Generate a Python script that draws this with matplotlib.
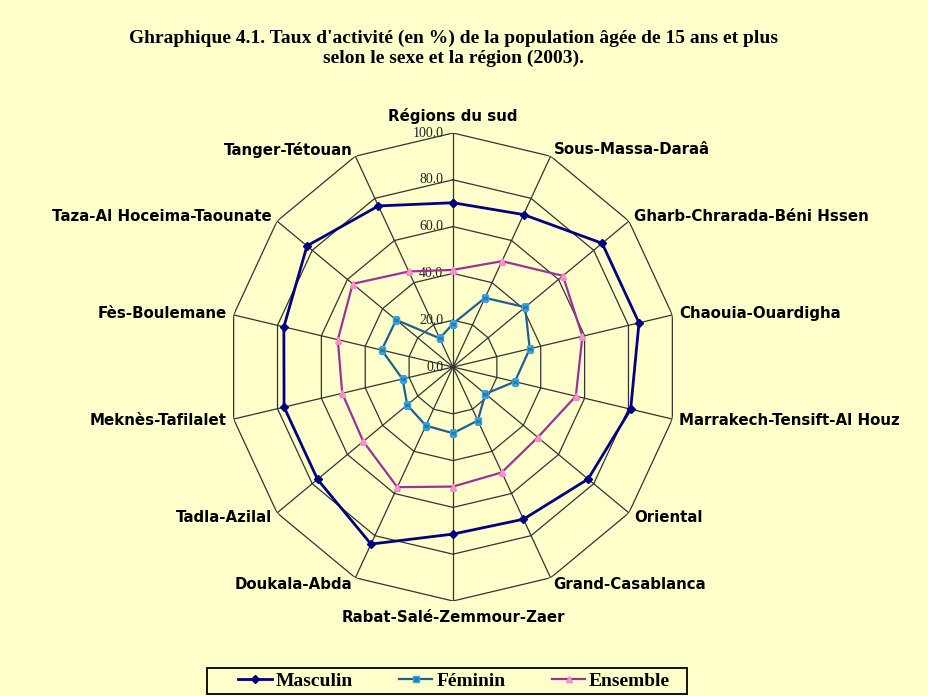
import numpy as np
import matplotlib.pyplot as plt
from matplotlib.patches import Rectangle

# Régions (dans le sens horaire depuis le haut)
regions = ['Régions du sud', 'Sous-Massa-Daraâ', 'Gharb-Chrarada-Béni Hssen',
           'Chaouia-Ouardigha', 'Marrakech-Tensift-Al Houz', 'Oriental',
           'Grand-Casablanca', 'Rabat-Salé-Zemmour-Zaer', 'Doukala-Abda',
           'Tadla-Azilal', 'Meknès-Tafilalet', 'Fès-Boulemane',
           'Taza-Al Hoceima-Taounate', 'Tanger-Tétouan']
masculin = [70.2, 72.3, 84.8, 84.8, 81.0, 76.8, 72.2, 71.4, 84.0, 77.0, 77.0, 77.1, 83.0, 76.4]
feminin = [18.5, 32.8, 41.0, 35.0, 28.2, 18.4, 25.4, 28.3, 27.8, 26.0, 23.0, 32.5, 32.3, 13.6]
ensemble = [41.5, 50.2, 62.5, 59.0, 56.0, 48.2, 50.0, 51.1, 57.0, 51.0, 50.5, 52.5, 57.0, 45.3]
ticks = [0, 20, 40, 60, 80, 100]

bg = '#FFFFCC'
fig = plt.figure(figsize=(9.29, 6.96), dpi=100, facecolor=bg)
ax = fig.add_axes([0.2454, 0.1365, 0.4844, 0.6724], projection='polar')
ax.set_aspect('auto')
ax.set_facecolor(bg)
ax.set_theta_zero_location('N')
ax.set_theta_direction(-1)
ax.set_ylim(0, 100)
ax.grid(False)
ax.spines['polar'].set_visible(False)
ax.set_xticks([])
ax.set_yticks([])

n = len(regions)
theta = np.arange(n) * 2 * np.pi / n
theta_c = np.append(theta, theta[0])

# grille polygonale
for t in ticks[1:]:
    ax.plot(theta_c, [t] * (n + 1), color='#333333', lw=0.9, zorder=1)
for th in theta:
    ax.plot([th, th], [0, 100], color='#333333', lw=0.9, zorder=1)

# étiquettes de l'axe radial
for t in ticks:
    ax.annotate('%.1f' % t, xy=(0, t), xytext=(-7, 0), textcoords='offset points',
                ha='right', va='center', fontsize=10, family='Liberation Serif',
                color='#222222', zorder=2)

def close(v):
    return list(v) + [v[0]]

ax.plot(theta_c, close(masculin), color='#000080', lw=2, marker='D', ms=4,
        mfc='#000080', mec='#000080', label='Masculin', zorder=4)
ax.plot(theta_c, close(feminin), color='#1F5F8F', lw=1.6, marker='s', ms=5,
        mfc='#1F7FAF', mec='#3FA0E0', label='Féminin', zorder=4)
ax.plot(theta_c, close(ensemble), color='#993399', lw=1.6, marker='^', ms=5,
        mfc='#FF99CC', mec='#FF88CC', label='Ensemble', zorder=3)

# noms des régions
for th, lab in zip(theta, regions):
    s = np.sin(th)
    c = np.cos(th)
    if abs(s) < 0.05:
        ha = 'center'
    elif s > 0:
        ha = 'left'
    else:
        ha = 'right'
    if c > 0.95:
        va = 'bottom'
        r = 104
    elif c < -0.95:
        va = 'top'
        r = 104
    else:
        va = 'center'
        r = 103
    ax.text(th, r, lab, ha=ha, va=va, fontsize=10.8, fontweight='bold',
            family='DejaVu Sans', clip_on=False)

fig.text(0.488, 0.930, "Ghraphique 4.1. Taux d'activité (en %) de la population âgée de 15 ans et plus\n"
         "selon le sexe et la région (2003).", ha='center', va='center',
         fontsize=14, fontweight='bold', family='Liberation Serif', linespacing=1.2)

leg = fig.legend(loc='center', bbox_to_anchor=(0.489, 0.0215), ncol=3,
                 prop={'family': 'Liberation Serif', 'weight': 'bold', 'size': 14},
                 frameon=False, columnspacing=2.4, handlelength=1.7,
                 handletextpad=0.2)

# cadre de la légende
fig.patches.append(Rectangle((0.2228, 0.003), 0.5167, 0.037, transform=fig.transFigure,
                             fill=False, edgecolor='black', lw=1.3, zorder=5))

fig.savefig('out.png', dpi=100, facecolor=bg)
